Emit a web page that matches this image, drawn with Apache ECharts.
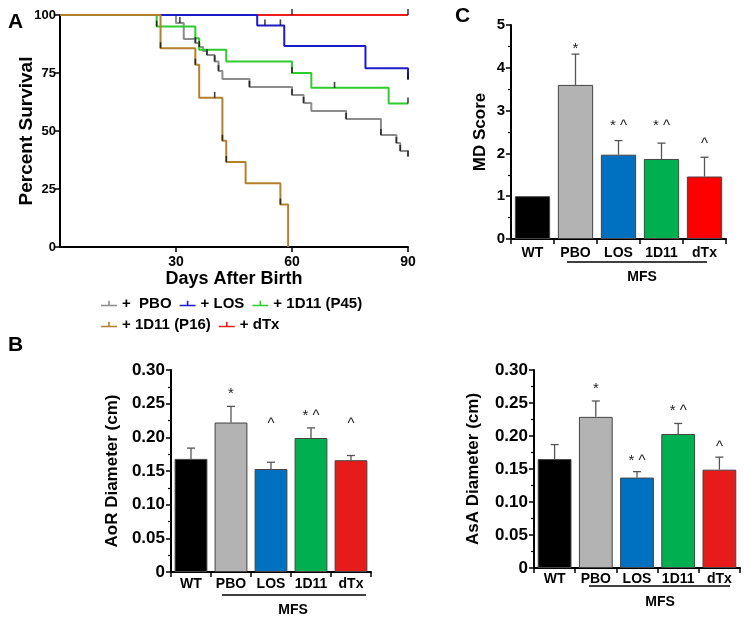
<!DOCTYPE html>
<html>
<head>
<meta charset="utf-8">
<script src="https://cdn.jsdelivr.net/npm/echarts@6/dist/echarts.min.js"></script>
<style>
  html, body { margin: 0; padding: 0; background: #fff; }
  #main { width: 750px; height: 620px; }
</style>
</head>
<body>
<div id="main"></div>
<script>
// ---- panel A: survival ----
const pboDays = [0, 30, 32, 35, 36, 37, 38, 40, 41, 42, 49, 60, 63, 65, 74, 83, 87, 88, 90];
const pboSurv = [100, 96.6, 89.7, 87.9, 86.2, 84.5, 82.8, 80.0, 75.9, 72.4, 69.0, 65.5, 62.1, 58.6, 55.2, 48.3, 44.8, 41.4, 39.0];
const losDays = [0, 51, 58, 79, 90];
const losSurv = [100, 95.5, 86.6, 77.0, 72.2];
const p45Days = [0, 25, 35, 36, 43, 60, 65, 85, 90];
const p45Surv = [100, 95, 90, 85, 80, 75, 68.6, 61.9, 61.9];
const p16Days = [0, 26, 35, 36, 42, 43, 48, 57, 59];
const p16Surv = [100, 85.7, 78.6, 64.3, 45.8, 36.6, 27.5, 18.3, 0];
const dtxDays = [0, 90];
const dtxSurv = [100, 100];
// censor ticks
const censorDays = [60, 90, 53, 57, 90, 25, 60, 71, 90, 26, 35, 40, 42, 43, 57,
                    31, 35, 36, 38, 40, 41, 49, 60, 63, 74, 83, 87, 88, 90];
const censorSurv = [100, 100, 95.5, 95.5, 72.2, 95, 75, 68.6, 61.9, 85.7, 78.6, 64.3, 45.8, 36.6, 18.3,
                    96.6, 87.9, 86.2, 82.8, 80, 75.9, 69, 65.5, 62.1, 55.2, 48.3, 44.8, 41.4, 39];

// ---- bar panels ----
const groups = ['WT', 'PBO', 'LOS', '1D11', 'dTx'];
const mdMean = [1.0, 3.6, 1.97, 1.87, 1.46];
const mdErr = [1.0, 4.32, 2.3, 2.24, 1.91];
const mdAnnY = [null, 4.53, 2.74, 2.74, 2.31];
const aorMean = [0.168, 0.222, 0.153, 0.199, 0.166];
const aorErr = [0.184, 0.246, 0.163, 0.214, 0.173];
const aorAnnY = [null, 0.270, 0.226, 0.238, 0.226];
const asaMean = [0.165, 0.229, 0.137, 0.203, 0.149];
const asaErr = [0.187, 0.253, 0.146, 0.219, 0.168];
const asaAnnY = [null, 0.277, 0.168, 0.244, 0.189];
const mdAnn = ['', '*', '* ^', '* ^', '^'];
const aorAnn = ['', '*', '^', '* ^', '^'];
const asaAnn = ['', '*', '* ^', '* ^', '^'];

const FONT = '"Liberation Sans", Arial, sans-serif';
const colorsC = ['#000000', '#b3b3b3', '#0070c0', '#00b050', '#ff0000'];
const colorsB = ['#000000', '#b3b3b3', '#0070c0', '#00b050', '#e81b1b'];

const zip = (a, b) => a.map((v, i) => [v, b[i]]);

const chart = echarts.init(document.getElementById('main'));

const legendIcon = 'path://M0,6H20V8H0Z M9,1H11V7H9Z';

function survSeries(name, days, surv, color) {
    return {
        name: name,
        type: 'line',
        step: 'end',
        xAxisIndex: 0,
        yAxisIndex: 0,
        data: zip(days, surv),
        symbol: 'none',
        lineStyle: { color: color, width: 2 },
        itemStyle: { color: color }
    };
}

function barSeries(idx, means, colors) {
    return {
        type: 'bar',
        xAxisIndex: idx,
        yAxisIndex: idx,
        barWidth: '82%',
        data: means.map((v, i) => ({
            value: v,
            itemStyle: { color: colors[i], borderColor: '#444', borderWidth: 1 }
        }))
    };
}

function errSeries(idx, means, errs, annY, ann) {
    return {
        type: 'custom',
        xAxisIndex: idx,
        yAxisIndex: idx,
        data: means.map((v, i) => [i, v, errs[i]]),
        z: 5,
        renderItem: function (params, api) {
            const i = params.dataIndex;
            const base = api.coord([i, means[i]]);
            const top = api.coord([i, errs[i]]);
            const children = [];
            if (errs[i] > means[i]) {
                children.push({
                    type: 'line',
                    shape: { x1: base[0], y1: base[1], x2: top[0], y2: top[1] },
                    style: { stroke: '#555', lineWidth: 1.3 }
                });
                children.push({
                    type: 'line',
                    shape: { x1: top[0] - 4, y1: top[1], x2: top[0] + 4, y2: top[1] },
                    style: { stroke: '#555', lineWidth: 1.3 }
                });
            }
            if (annY[i] != null) {
                const p = api.coord([i, annY[i]]);
                children.push({
                    type: 'text',
                    style: {
                        x: p[0], y: p[1] + 4, text: ann[i],
                        fill: '#222', font: '15px ' + FONT,
                        align: 'center', verticalAlign: 'middle'
                    }
                });
            }
            return { type: 'group', children: children };
        }
    };
}

const boldLabel = (size) => ({ color: '#000', fontFamily: FONT, fontWeight: 'bold', fontSize: size });

function catAxis(idx, margin) {
    return {
        type: 'category',
        gridIndex: idx,
        data: groups,
        axisLine: { lineStyle: { color: '#000', width: 2 } },
        axisTick: { show: true, length: 5, lineStyle: { color: '#000', width: 1.5 } },
        axisLabel: Object.assign(boldLabel(14), { margin: margin, interval: 0 })
    };
}

function valAxis(idx, max, interval, name, nameGap, labelSize, fmt) {
    return {
        type: 'value',
        gridIndex: idx,
        min: 0,
        max: max,
        interval: interval,
        name: name,
        nameLocation: 'middle',
        nameGap: nameGap,
        nameTextStyle: boldLabel(17),
        splitLine: { show: false },
        axisLine: { show: true, lineStyle: { color: '#000', width: 2 } },
        axisTick: { show: true, length: 5, lineStyle: { color: '#000', width: 1.5 } },
        minorTick: { show: true, splitNumber: 2, length: 3, lineStyle: { color: '#000', width: 1.2 } },
        axisLabel: Object.assign(boldLabel(labelSize), { margin: 6, formatter: fmt })
    };
}

const fmt2 = v => (v === 0 ? '0' : v.toFixed(2));

const option = {
    animation: false,
    backgroundColor: '#fff',
    textStyle: { fontFamily: FONT },
    grid: [
        { left: 60, top: 15, width: 348, height: 232 },
        { left: 511, top: 25, width: 215, height: 214 },
        { left: 171, top: 370, width: 200, height: 202 },
        { left: 534, top: 370, width: 206, height: 198 }
    ],
    legend: [
        {
            left: 96, top: 291, itemWidth: 16, itemHeight: 9, itemGap: 8,
            icon: legendIcon,
            textStyle: boldLabel(15),
            data: ['+  PBO', '+ LOS', '+ 1D11 (P45)']
        },
        {
            left: 96, top: 312, itemWidth: 16, itemHeight: 9, itemGap: 8,
            icon: legendIcon,
            textStyle: boldLabel(15),
            data: ['+ 1D11 (P16)', '+ dTx']
        }
    ],
    xAxis: [
        {
            type: 'value',
            gridIndex: 0,
            min: 0, max: 90, interval: 30,
            name: 'Days After Birth',
            nameLocation: 'middle',
            nameGap: 23,
            nameTextStyle: boldLabel(18),
            splitLine: { show: false },
            axisLine: { lineStyle: { color: '#000', width: 2 } },
            axisTick: { length: 5, lineStyle: { color: '#000', width: 1.5 } },
            axisLabel: Object.assign(boldLabel(14), { margin: 8, showMinLabel: false })
        },
        catAxis(1, 7),
        catAxis(2, 5),
        catAxis(3, 4)
    ],
    yAxis: [
        {
            type: 'value',
            gridIndex: 0,
            min: 0, max: 100, interval: 25,
            name: 'Percent Survival',
            nameLocation: 'middle',
            nameGap: 24,
            nameMoveOverlap: false,
            nameTextStyle: boldLabel(19),
            splitLine: { show: false },
            axisLine: { show: true, lineStyle: { color: '#000', width: 2 } },
            axisTick: { show: true, length: 5, lineStyle: { color: '#000', width: 1.5 } },
            axisLabel: Object.assign(boldLabel(13), { margin: 4 })
        },
        valAxis(1, 5, 1, 'MD Score', 22, 15),
        valAxis(2, 0.3, 0.05, 'AoR Diameter (cm)', 50, 17, fmt2),
        valAxis(3, 0.3, 0.05, 'AsA Diameter (cm)', 52, 17, fmt2)
    ],
    graphic: [
        { type: 'text', left: 8, top: 12, style: { text: 'A', font: 'bold 21px ' + FONT, fill: '#000' } },
        { type: 'text', left: 455, top: 6, style: { text: 'C', font: 'bold 21px ' + FONT, fill: '#000' } },
        { type: 'text', left: 8, top: 335, style: { text: 'B', font: 'bold 21px ' + FONT, fill: '#000' } },
        // MFS underlines and labels
        { type: 'line', shape: { x1: 567, y1: 262, x2: 707, y2: 262 }, style: { stroke: '#000', lineWidth: 1.5 } },
        { type: 'text', x: 642, y: 277, style: { text: 'MFS', font: 'bold 14px ' + FONT, fill: '#000', align: 'center', verticalAlign: 'middle' } },
        { type: 'line', shape: { x1: 222, y1: 595, x2: 366, y2: 595 }, style: { stroke: '#000', lineWidth: 1.5 } },
        { type: 'text', x: 293, y: 610, style: { text: 'MFS', font: 'bold 14px ' + FONT, fill: '#000', align: 'center', verticalAlign: 'middle' } },
        { type: 'line', shape: { x1: 589, y1: 586, x2: 730, y2: 586 }, style: { stroke: '#000', lineWidth: 1.5 } },
        { type: 'text', x: 660, y: 602, style: { text: 'MFS', font: 'bold 14px ' + FONT, fill: '#000', align: 'center', verticalAlign: 'middle' } }
    ],
    series: [
        survSeries('+ dTx', dtxDays, dtxSurv, '#f01c1c'),
        survSeries('+  PBO', pboDays, pboSurv, '#8c8c8c'),
        survSeries('+ 1D11 (P45)', p45Days, p45Surv, '#2ecc2e'),
        survSeries('+ LOS', losDays, losSurv, '#1c1cc8'),
        survSeries('+ 1D11 (P16)', p16Days, p16Surv, '#b3812e'),
        {
            type: 'scatter',
            xAxisIndex: 0,
            yAxisIndex: 0,
            data: zip(censorDays, censorSurv),
            symbol: 'rect',
            symbolSize: [1.6, 6],
            symbolOffset: [0, -3],
            itemStyle: { color: '#111' },
            z: 4
        },
        barSeries(1, mdMean, colorsC),
        errSeries(1, mdMean, mdErr, mdAnnY, mdAnn),
        barSeries(2, aorMean, colorsB),
        errSeries(2, aorMean, aorErr, aorAnnY, aorAnn),
        barSeries(3, asaMean, colorsB),
        errSeries(3, asaMean, asaErr, asaAnnY, asaAnn)
    ]
};

chart.setOption(option);
</script>
</body>
</html>
